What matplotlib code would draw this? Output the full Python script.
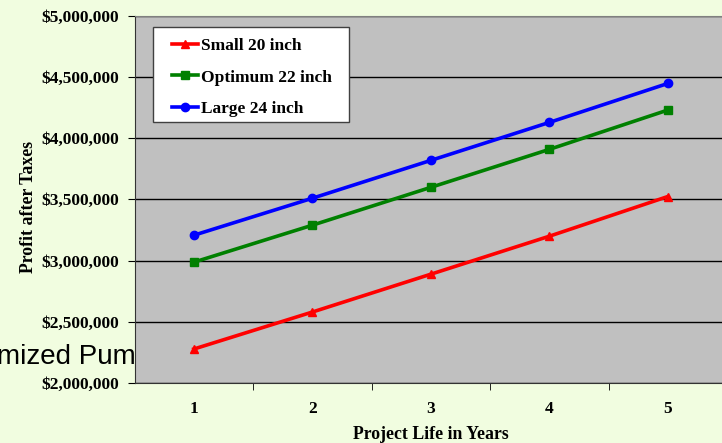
import matplotlib.pyplot as plt
from matplotlib.patches import Rectangle
from matplotlib.legend_handler import HandlerLine2D
from matplotlib.ticker import FuncFormatter, FixedLocator

years = [1, 2, 3, 4, 5]
small_20 = [2277000, 2579000, 2888000, 3198000, 3522000]
optimum_22 = [2986000, 3288000, 3597000, 3907000, 4228000]
large_24 = [3206000, 3508000, 3817000, 4127000, 4445000]

series = [
    ("Small 20 inch", small_20, "#ff0000", "^"),
    ("Optimum 22 inch", optimum_22, "#008000", "s"),
    ("Large 24 inch", large_24, "#0000ff", "o"),
]

W, H = 722, 443
fig = plt.figure(figsize=(W / 100, H / 100), dpi=100, facecolor="#f1fde0")
left, right, top, bottom = 134.5, 727, 15.5, 383
ax = fig.add_axes([left / W, (H - bottom) / H, (right - left) / W, (bottom - top) / H])
ax.set_facecolor("#c0c0c0")

serif = dict(family="Liberation Serif", weight="bold")
fs = 12.5

for label, vals, color, marker in series:
    ax.plot(years, vals, color=color, lw=2.6, marker=marker, ms=6, mec=color, label=label)

ax.set_xlim(0.5, 5.5)
ax.set_ylim(2000000, 5000000)
ax.set_yticks(range(2000000, 5000001, 500000))
ax.yaxis.set_major_formatter(FuncFormatter(lambda v, p: "${:,.0f}".format(v)))
ax.grid(axis="y", color="black", lw=1)
ax.set_axisbelow(True)

ax.set_xticks(years)
ax.xaxis.set_minor_locator(FixedLocator([1.5, 2.5, 3.5, 4.5]))
ax.tick_params(axis="x", which="major", length=0, pad=13)
ax.tick_params(axis="x", which="minor", length=5, direction="out", color="black")
ax.tick_params(axis="y", length=5, direction="out", color="black", pad=6)
for t in ax.get_xticklabels() + ax.get_yticklabels():
    t.set_fontfamily("Liberation Serif")
    t.set_fontweight("bold")
    t.set_fontsize(fs)

for side in ["top", "right"]:
    ax.spines[side].set_color("#808080")
ax.spines["left"].set_color("#333333")
ax.spines["bottom"].set_color("#333333")

ax.set_xlabel("Project Life in Years", fontsize=12.8, **serif)
ax.xaxis.set_label_coords(0.5, -0.139)
ax.xaxis.label.set_va("center")
ax.set_ylabel("Profit after Taxes", fontsize=12.8, **serif)
ax.yaxis.set_label_coords(-0.1646, 0.48)

# legend box drawn by hand, entries placed inside it
ax.add_patch(Rectangle((0.0307, 0.711), 0.331, 0.2585, transform=ax.transAxes,
                       facecolor="white", edgecolor="#404040", lw=1, zorder=4))
ax.legend(loc="upper left", bbox_to_anchor=(0.0633, 0.939), prop=dict(size=fs, **serif),
          frameon=False, handlelength=1.5, handletextpad=0.15, labelspacing=0.88,
          borderpad=0, borderaxespad=0,
          handler_map={l: HandlerLine2D(numpoints=1) for l in ax.get_lines()}).set_zorder(5)

# leftover title text, partly hidden behind the plot area
fig.text(-0.004, (H - 357) / H, "mized Pump", fontsize=20, family="Liberation Sans",
         ha="left", va="center", zorder=-1)

fig.savefig("out.png", dpi=100, facecolor=fig.get_facecolor())
